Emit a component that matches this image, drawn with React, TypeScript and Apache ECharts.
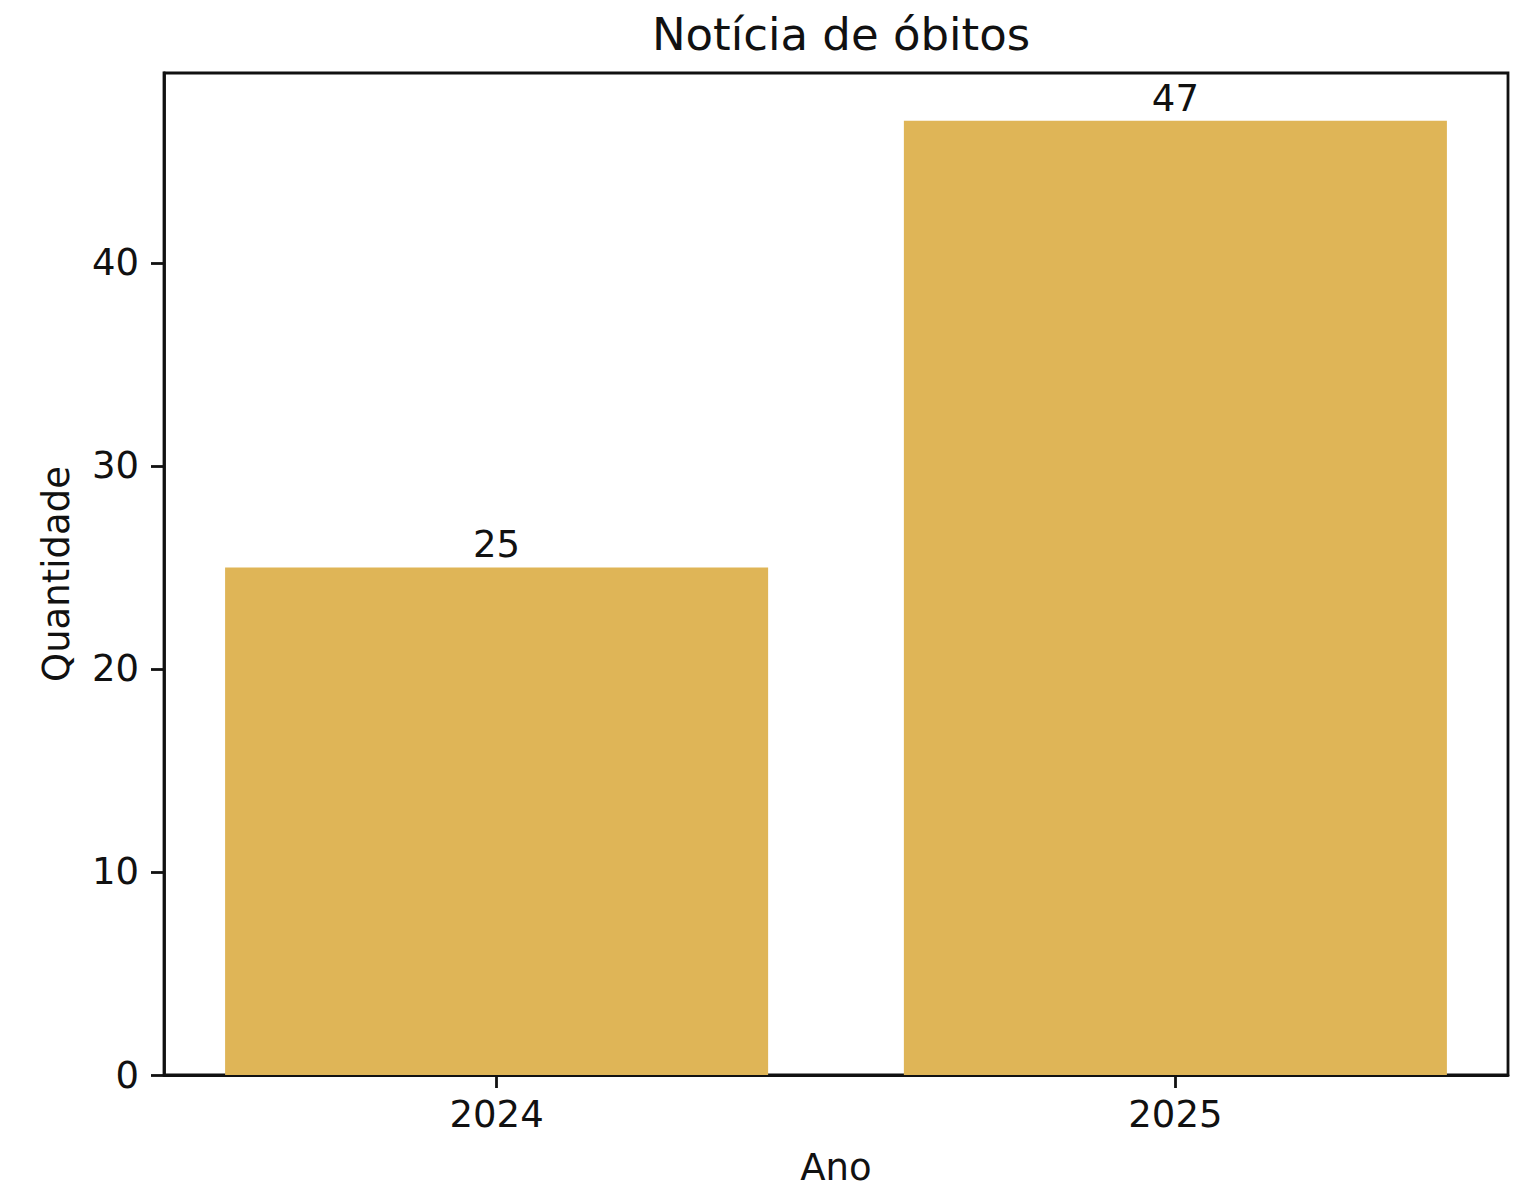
import React, { useEffect, useRef } from "react";
import * as echarts from "echarts";

const title = "Notícia de óbitos";
const years = ["2024", "2025"];
const counts = [25, 47];
const yTicks = [0, 10, 20, 30, 40];
const xName = "Ano";
const yName = "Quantidade";

export default function App() {
  const ref = useRef<HTMLDivElement>(null);
  useEffect(() => {
    if (!ref.current) return;
    const chart = echarts.init(ref.current, null, { renderer: "svg" });
    const gridLeft = 164;
    const gridTop = 73;
    const gridW = 1344;
    const gridH = 1002;
    const xMin = -0.49;
    const xMax = years.length - 1 + 0.49;
    const barW = (0.8 / (xMax - xMin)) * gridW;
    const font = "DejaVu Sans";
    const fs = 37;
    const lw = 2.8;
    chart.setOption({
      animation: false,
      backgroundColor: "#ffffff",
      title: {
        text: title,
        left: gridLeft + gridW / 2,
        textAlign: "center",
        top: 7,
        textStyle: { fontFamily: font, fontSize: 45, fontWeight: "normal", color: "#111" },
      },
      grid: {
        left: gridLeft,
        top: gridTop,
        width: gridW,
        height: gridH,
        show: true,
        borderColor: "#111",
        borderWidth: lw,
        containLabel: false,
        outerBoundsMode: "none",
      },
      xAxis: {
        type: "value",
        min: xMin,
        max: xMax,
        name: xName,
        nameLocation: "middle",
        nameGap: 74,
        nameTextStyle: { fontFamily: font, fontSize: fs, color: "#111" },
        splitLine: { show: false },
        axisLine: { show: true, onZero: false, lineStyle: { color: "#111", width: lw } },
        axisTick: {
          show: true,
          length: 13,
          customValues: years.map((_, i) => i),
          lineStyle: { color: "#111", width: lw },
        },
        axisLabel: {
          customValues: years.map((_, i) => i),
          formatter: (v: number) => years[Math.round(v)] ?? "",
          margin: 21,
          fontFamily: font,
          fontSize: fs,
          color: "#111",
        },
      },
      yAxis: {
        type: "value",
        min: 0,
        max: Math.max(...counts) * 1.05,
        name: yName,
        nameLocation: "middle",
        nameGap: 89,
        nameTextStyle: { fontFamily: font, fontSize: fs, color: "#111" },
        splitLine: { show: false },
        axisLine: { show: true, onZero: false, lineStyle: { color: "#111", width: lw } },
        axisTick: {
          show: true,
          length: 13,
          customValues: yTicks,
          lineStyle: { color: "#111", width: lw },
        },
        axisLabel: {
          customValues: yTicks,
          margin: 25,
          fontFamily: font,
          fontSize: fs,
          color: "#111",
        },
      },
      series: [
        {
          type: "bar",
          data: counts.map((c, i) => [i, c]),
          barWidth: barW,
          itemStyle: { color: "#DFB557" },
          label: {
            show: true,
            position: "top",
            distance: 4,
            fontFamily: font,
            fontSize: fs,
            color: "#111",
          },
        },
      ],
    });
    return () => chart.dispose();
  }, []);
  return (
    <div
      ref={ref}
      style={{ position: "absolute", left: 0, top: 0, width: 1522, height: 1191 }}
    />
  );
}
